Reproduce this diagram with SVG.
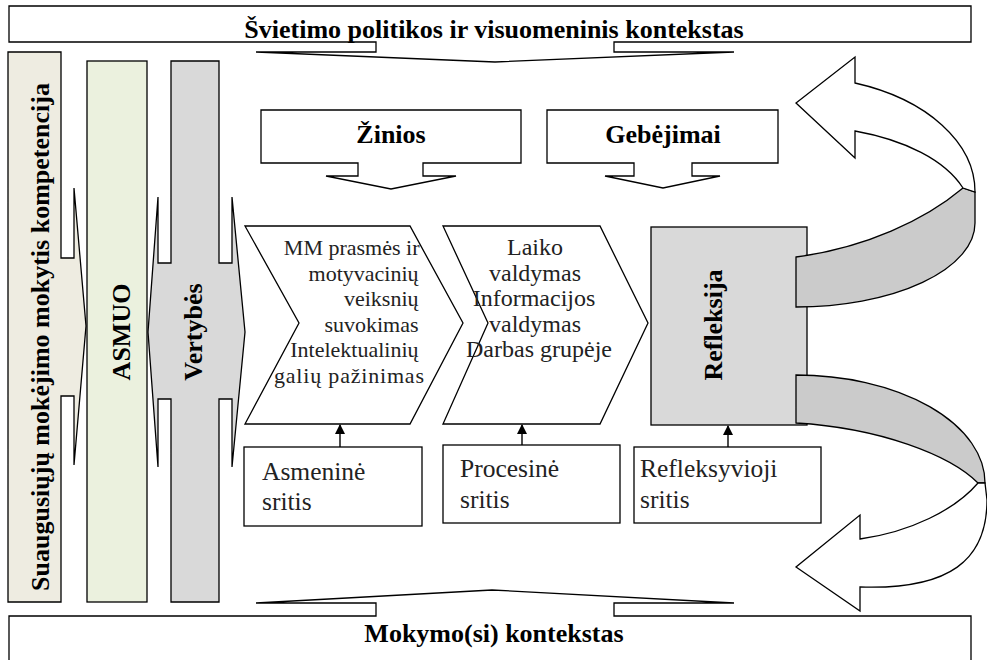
<svg xmlns="http://www.w3.org/2000/svg" width="987" height="660" viewBox="0 0 987 660">
  <defs>
    <style>
      .shape { stroke: #000; stroke-width: 1.3; stroke-linejoin: miter; }
      .white { fill: #fff; }
      .tan { fill: #eeece1; }
      .green { fill: #ebf1de; }
      .grey { fill: #d9d9d9; }
      .back { fill: #cbcbcb; }
      .bold { font-family: "Liberation Serif", "Times New Roman", serif; font-weight: bold; font-size: 26px; fill: #000; }
      .reg { font-family: "Liberation Serif", "Times New Roman", serif; font-size: 22px; fill: #222; }
      .reg2 { font-family: "Liberation Serif", "Times New Roman", serif; font-size: 24px; fill: #222; }
      .box { font-family: "Liberation Serif", "Times New Roman", serif; font-size: 25.5px; fill: #222; }
      .link { stroke: #000; stroke-width: 1.4; fill: none; }
    </style>
    <marker id="arrowhead" viewBox="0 0 10 10" refX="9" refY="5" markerWidth="11" markerHeight="10" markerUnits="userSpaceOnUse" orient="auto">
      <path d="M0,0 L10,5 L0,10 Z" fill="#000"/>
    </marker>
  </defs>

  <rect width="987" height="660" fill="#fff"/>

  <!-- top context banner with downward callout -->
  <g id="policy-context">
    <path class="shape white" d="M9,6 H971 V42 H614 V52 H734 L495,62 L256,52 H376 V42 H9 Z"/>
    <text class="bold" x="494" y="38" text-anchor="middle">Švietimo politikos ir visuomeninis kontekstas</text>
  </g>

  <!-- bottom context banner with upward callout -->
  <g id="learning-context">
    <path class="shape white" d="M9,616 H376 V603 H256 L492,590 L734,603 H614 V616 H971 V668 H9 Z"/>
    <text class="bold" x="494" y="642" text-anchor="middle">Mokymo(si) kontekstas</text>
  </g>

  <!-- left vertical columns -->
  <g id="competence">
    <path class="shape tan" d="M8,52 H61 V258 H74 V188 L86,326 L74,465 V396 H61 V602 H8 Z"/>
    <text class="bold" transform="translate(49,337) rotate(-90)" text-anchor="middle">Suaugusiųjų mokėjimo mokytis kompetencija</text>
  </g>

  <g id="person">
    <rect class="shape green" x="87" y="61" width="60" height="541"/>
    <text class="bold" transform="translate(130,332) rotate(-90)" text-anchor="middle">ASMUO</text>
  </g>

  <g id="values">
    <path class="shape grey" d="M171,61 H219 V263 H232 V197 L245,332 L232,467 V399 H219 V602 H171 V399 H158 V467 L148,332 L158,197 V263 H171 Z"/>
    <text class="bold" transform="translate(202,332) rotate(-90)" text-anchor="middle">Vertybės</text>
  </g>

  <!-- knowledge / skills callouts -->
  <g id="knowledge">
    <path class="shape white" d="M261,110 H521 V163 H423 V176 H456 L391,189 L326,176 H358 V163 H261 Z"/>
    <text class="bold" x="391" y="143" text-anchor="middle">Žinios</text>
  </g>

  <g id="skills">
    <path class="shape white" d="M547,110 H778 V163 H692 V176 H720 L663,188 L605,176 H634 V163 H547 Z"/>
    <text class="bold" x="663" y="143" text-anchor="middle">Gebėjimai</text>
  </g>

  <!-- process chevrons -->
  <g id="personal-step">
    <path class="shape white" d="M245,226 H410 L463,323 L410,424 H245 L299,323 Z"/>
    <text class="reg" text-anchor="end">
      <tspan x="425" y="255">MM prasmės ir</tspan>
      <tspan x="424" y="281">motyvacinių</tspan>
      <tspan x="424" y="306">veiksnių</tspan>
      <tspan x="424" y="332">suvokimas</tspan>
      <tspan x="424" y="357">Intelektualinių</tspan>
      <tspan x="424" y="383" textLength="150" lengthAdjust="spacing">galių pažinimas</tspan>
    </text>
  </g>

  <g id="process-step">
    <path class="shape white" d="M443,226 H600 L648,323 L600,424 H443 L488,323 Z"/>
    <text class="reg2" text-anchor="middle">
      <tspan x="538" y="255">Laiko</tspan>
      <tspan x="538" y="281">valdymas</tspan>
      <tspan x="537" y="306">Informacijos</tspan>
      <tspan x="538" y="332">valdymas</tspan>
      <tspan x="539" y="357">Darbas grupėje</tspan>
    </text>
  </g>

  <g id="reflection">
    <rect class="shape grey" x="651" y="227" width="156" height="198"/>
    <text class="bold" transform="translate(722,325) rotate(-90)" text-anchor="middle">Refleksija</text>
  </g>

  <!-- curved feedback arrows: darker back face, then white front face -->
  <g id="feedback-upper">
    <path class="shape back" d="M796,307 A179,84 0 0 0 975,223 L975,192 L963,188 C925,220 865,248 796,257 Z"/>
    <path class="shape white" d="M855,131 C905,140 945,160 963,188 L975,192 A179,115 0 0 0 855,83 L855,57 L796,103 L855,158 Z"/>
  </g>

  <g id="feedback-lower">
    <path class="shape back" d="M796,375 A189,108 0 0 1 985,483 L978,483 C950,455 880,428 796,423 Z"/>
    <path class="shape white" d="M860,539 C910,532 955,510 978,483 L985,483 L987,500 C987,560 950,590 860,587 L860,611 L796,567 L860,515 Z"/>
  </g>

  <!-- domain boxes -->
  <g id="personal-domain">
    <rect class="shape white" x="244" y="447" width="178" height="79"/>
    <text class="box"><tspan x="262" y="480">Asmeninė</tspan><tspan x="262" y="510">sritis</tspan></text>
  </g>

  <g id="process-domain">
    <rect class="shape white" x="443" y="445" width="177" height="78"/>
    <text class="box"><tspan x="460" y="477">Procesinė</tspan><tspan x="460" y="508">sritis</tspan></text>
  </g>

  <g id="reflective-domain">
    <rect class="shape white" x="634" y="447" width="187" height="76"/>
    <text class="box"><tspan x="640" y="477">Refleksyvioji</tspan><tspan x="640" y="508">sritis</tspan></text>
  </g>

  <!-- connectors from domains up to the steps -->
  <g id="connectors">
    <line class="link" x1="340" y1="447" x2="340" y2="425" marker-end="url(#arrowhead)"/>
    <line class="link" x1="522" y1="445" x2="522" y2="425" marker-end="url(#arrowhead)"/>
    <line class="link" x1="728" y1="447" x2="728" y2="426" marker-end="url(#arrowhead)"/>
  </g>
</svg>
